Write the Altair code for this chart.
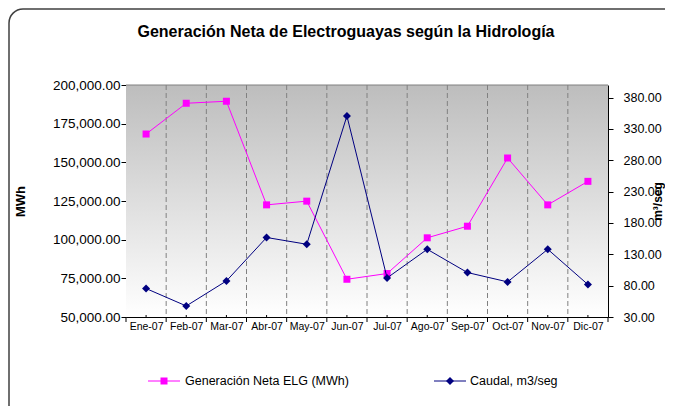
import json
import altair as alt
import pandas as pd

# ---- data ----
months = ["Ene-07", "Feb-07", "Mar-07", "Abr-07", "May-07", "Jun-07",
          "Jul-07", "Ago-07", "Sep-07", "Oct-07", "Nov-07", "Dic-07"]
generacion = [168300, 188200, 189500, 122500, 124900, 74400,
              78100, 101200, 108700, 152800, 122500, 137700]
caudal = [75.4, 47.6, 87.5, 156.8, 146.0, 350.6,
          92.3, 138.0, 100.9, 86.0, 138.0, 81.8]
gen_ticks = [50000, 75000, 100000, 125000, 150000, 175000, 200000]
caudal_ticks = [30, 80, 130, 180, 230, 280, 330, 380]
gen_domain = [50000, 200000]
caudal_domain = [30, 400]
series = ["Generación Neta ELG (MWh)", "Caudal, m3/seg"]
chart_title = "Generación Neta de Electroguayas según la Hidrología"
y_left_title = "MWh"
y_right_title = "m³/seg"

# ---- styling ----
W, H = 482, 232
FONT = "Liberation Sans"
MAGENTA = "#ff00ff"
NAVY = "#000080"

idx = list(range(len(months)))
df = pd.DataFrame({"i": idx, "mes": months, "gen": generacion, "caudal": caudal})
bounds = pd.DataFrame({"b": [k - 0.5 for k in range(len(months) + 1)]})
inner = bounds.iloc[1:-1]
one = alt.Data(values=[{"k": 0}])

x_scale = alt.Scale(domain=[-0.5, len(months) - 0.5], nice=False, zero=False)
x_axis = alt.Axis(values=idx, labelExpr=json.dumps(months) + "[datum.value]",
                  ticks=False, grid=False, title=None, domainColor="black",
                  labelFont=FONT, labelFontSize=10.5, labelColor="black",
                  labelPadding=4, labelAngle=0)


def x_enc(field):
    return alt.X(field, scale=x_scale, axis=x_axis)


bg = alt.Chart(one).mark_rect(
    fill=alt.LinearGradient(
        gradient="linear",
        stops=[alt.GradientStop(color="#bdbdbd", offset=0),
               alt.GradientStop(color="#ffffff", offset=1)],
        x1=0, x2=0, y1=0, y2=1)
).encode(x=alt.value(0), x2=alt.value(W), y=alt.value(0), y2=alt.value(H))

top_border = alt.Chart(one).mark_rule(color="#808080").encode(
    x=alt.value(0), x2=alt.value(W), y=alt.value(0))

grid = alt.Chart(inner).mark_rule(color="#808080", strokeDash=[5, 3]).encode(
    x=x_enc("b:Q"))

big_ticks = alt.Chart(bounds).mark_rule(color="black").encode(
    x=x_enc("b:Q"), y=alt.value(H), y2=alt.value(H + 5))

small_ticks = alt.Chart(df).mark_rule(color="black").encode(
    x=x_enc("i:Q"), y=alt.value(H - 2), y2=alt.value(H))

left_axis = alt.Axis(orient="left", values=gen_ticks, format=",.2f",
                     title=y_left_title, titleFont=FONT, titleFontSize=13,
                     titleFontWeight="bold", titleColor="black",
                     titleX=-106, titleY=H / 2, titleAngle=270,
                     titleBaseline="middle",
                     labelFont=FONT, labelFontSize=13.5, labelColor="black",
                     tickSize=5, tickColor="black", domainColor="black",
                     labelPadding=1, grid=False)
right_axis = alt.Axis(orient="right", values=caudal_ticks, format=".2f",
                      title=y_right_title, titleFont=FONT, titleFontSize=12,
                      titleFontWeight="bold", titleColor="black",
                      titleX=49, titleY=H / 2, titleAngle=270,
                      titleBaseline="middle",
                      labelFont=FONT, labelFontSize=12.5, labelColor="black",
                      tickSize=5, tickColor="black", domainColor="black",
                      labelPadding=10, grid=False)

gen_base = alt.Chart(df).encode(
    x=x_enc("i:Q"),
    y=alt.Y("gen:Q", scale=alt.Scale(domain=gen_domain, nice=False, zero=False),
            axis=left_axis))
gen_layer = alt.layer(
    gen_base.mark_line(color=MAGENTA, strokeWidth=1),
    gen_base.mark_point(shape="square", filled=True, size=49, color=MAGENTA, opacity=1),
)

cau_base = alt.Chart(df).encode(
    x=x_enc("i:Q"),
    y=alt.Y("caudal:Q", scale=alt.Scale(domain=caudal_domain, nice=False, zero=False),
            axis=right_axis))
cau_layer = alt.layer(
    cau_base.mark_line(color=NAVY, strokeWidth=1),
    cau_base.mark_point(shape="diamond", filled=True, size=64, color=NAVY, opacity=1),
)

# ---- legend (drawn by hand) ----
LY = 296
leg = alt.layer(
    alt.Chart(one).mark_rule(color=MAGENTA).encode(
        x=alt.value(22), x2=alt.value(54), y=alt.value(LY)),
    alt.Chart(one).mark_point(shape="square", filled=True, size=49, color=MAGENTA, opacity=1).encode(
        x=alt.value(38), y=alt.value(LY)),
    alt.Chart(one).mark_text(align="left", baseline="middle", font=FONT, fontSize=12.5,
                             color="black").encode(
        x=alt.value(59), y=alt.value(LY), text=alt.value(series[0])),
    alt.Chart(one).mark_rule(color=NAVY).encode(
        x=alt.value(308), x2=alt.value(340), y=alt.value(LY)),
    alt.Chart(one).mark_point(shape="diamond", filled=True, size=64, color=NAVY, opacity=1).encode(
        x=alt.value(324), y=alt.value(LY)),
    alt.Chart(one).mark_text(align="left", baseline="middle", font=FONT, fontSize=12.5,
                             color="black").encode(
        x=alt.value(344), y=alt.value(LY), text=alt.value(series[1])),
)

title_mark = alt.Chart(one).mark_text(
    align="center", baseline="alphabetic", font=FONT, fontSize=16,
    fontWeight="bold", color="black").encode(
    x=alt.value(W / 2 - 21), y=alt.value(-48), text=alt.value(chart_title))

frame = alt.Chart(one).mark_rect(
    fillOpacity=0, stroke="#404040", strokeWidth=1.5, cornerRadius=14).encode(
    x=alt.value(-117), x2=alt.value(W + 200), y=alt.value(-76), y2=alt.value(H + 200))

chart = alt.layer(
    bg, top_border, grid, big_ticks, small_ticks,
    gen_layer, cau_layer, leg, title_mark, frame,
).resolve_scale(y="independent").properties(
    width=W, height=H,
    autosize=alt.AutoSizeParams(type="none"),
    padding={"left": 118, "top": 77, "right": 57, "bottom": 89},
    background="white",
).configure_view(strokeWidth=0)

chart.save("out.html", embed_options={"renderer": "svg", "actions": False})
